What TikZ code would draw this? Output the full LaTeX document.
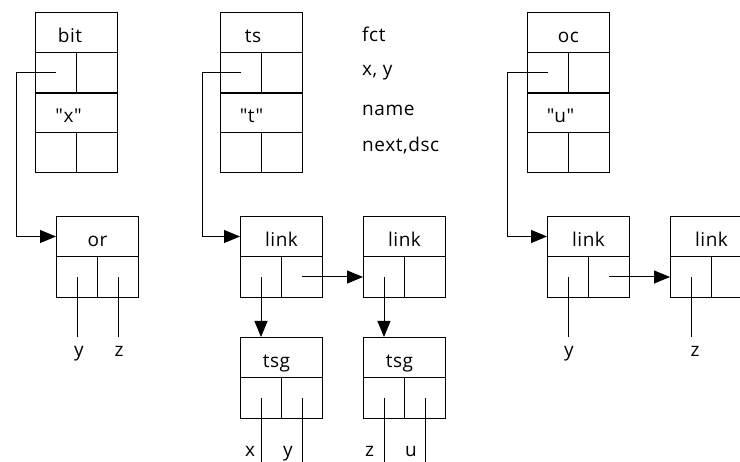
\documentclass[tikz,border=0pt]{standalone}
\usepackage{fontspec}
\setmainfont[LetterSpace=3,Ligatures=TeXOff]{Open Sans}
\usetikzlibrary{arrows.meta}
\newcommand\qq[1]{"#1"}
\newcommand\bigrec[4]{%
  \node[rec] (#1-h) at (#2,12) {#3};
  \node[half] (#1-a) at (#2,52) {};
  \node[half] (#1-b) at (#2+41,52) {};
  \node[rec] (#1-n) at (#2,92) {#4};
  \node[half] (#1-c) at (#2,132) {};
  \node[half] (#1-d) at (#2+41,132) {};
  \draw[sepline] (#1-a.south west) -- (#1-b.south east);
}
\newcommand\smallrec[4]{%
  \node[rec] (#1-h) at (#2,#3) {#4};
  \node[half, minimum height=41pt] (#1-a) at (#2,#3+40) {};
  \node[half, minimum height=41pt] (#1-b) at (#2+41,#3+40) {};
}
\begin{document}
\begin{tikzpicture}[x=1pt,y=-1pt,
  every node/.style={font=\fontsize{19}{22}\selectfont},
  rec/.style={draw, line width=1pt, inner sep=0pt, anchor=north west,
    minimum width=82pt, minimum height=40pt, text height=21pt, text depth=0pt},
  half/.style={rec, minimum width=41pt},
  sepline/.style={line width=2pt},
  wire/.style={line width=1pt},
  ptr/.style={line width=1pt, -{Triangle[length=16pt,width=13pt]}},
  lbl/.style={anchor=base, inner sep=0pt},
  side/.style={anchor=base west, inner sep=0pt}
]
\clip (0,0) rectangle (740,462);
\fill[white] (0,0) rectangle (740,462);

% top records
\bigrec{bit}{35}{bit\kern13pt}{\qq{x}\kern16pt}
\bigrec{ts}{220}{ts\kern17pt}{\qq{t}\kern20pt}
\bigrec{oc}{527}{oc}{\qq{u}\kern16pt}

% side legend
\node[side] (lf) at (362,42) {fct};
\node[side] (lx) at (362,76) {x, y};
\node[side] (ln) at (362,116) {name};
\node[side] (ld) at (362,152) {next,dsc};

% lower records
\smallrec{or}{56}{216}{or}
\smallrec{l1}{240}{216}{link}
\smallrec{l2}{363}{216}{link}
\smallrec{g1}{240}{337}{tsg\kern10pt}
\smallrec{g2}{363}{337}{tsg\kern10pt}
\smallrec{l3}{547}{216}{link}
\smallrec{l4}{670}{216}{link}

% pointers
\draw[ptr] (bit-a.center) -- ++(-40,0) |- (or-h.west);
\draw[ptr] (ts-a.center) -- ++(-39,0) |- (l1-h.west);
\draw[ptr] (oc-a.center) -- ++(-41,0) |- (l3-h.west);
\draw[ptr] (l1-b.center) -- (l2-a.west);
\draw[ptr] (l3-b.center) -- (l4-a.west);
\draw[ptr] (l1-a.center) -- (l1-a.center |- g1-h.north);
\draw[ptr] (l2-a.center) -- (l2-a.center |- g2-h.north);

% leaf labels
\node[lbl] (or-y) at (79,357) {y};
\node[lbl] (or-z) at (119,357) {z};
\node[lbl] (l3-y) at (569,357) {y};
\node[lbl] (l4-z) at (695,357) {z};
\node[lbl] (g1-x) at (250,457) {x};
\node[lbl] (g1-y) at (288,457) {y};
\node[lbl] (g2-z) at (369.5,457) {z};
\node[lbl] (g2-u) at (411,457) {u};

\coordinate (or-ae) at (or-a.center |- 0,337);
\coordinate (or-be) at (or-b.center |- 0,337);
\coordinate (l3-ae) at (l3-a.center |- 0,337);
\coordinate (l4-ae) at (l4-a.center |- 0,337);
\coordinate (g1-ae) at (g1-a.center |- 0,465);
\coordinate (g1-be) at (g1-b.center |- 0,465);
\coordinate (g2-ae) at (g2-a.center |- 0,465);
\coordinate (g2-be) at (g2-b.center |- 0,465);

\draw[wire] (or-a.center) -- (or-ae);
\draw[wire] (or-b.center) -- (or-be);
\draw[wire] (l3-a.center) -- (l3-ae);
\draw[wire] (l4-a.center) -- (l4-ae);
\draw[wire] (g1-a.center) -- (g1-ae);
\draw[wire] (g1-b.center) -- (g1-be);
\draw[wire] (g2-a.center) -- (g2-ae);
\draw[wire] (g2-b.center) -- (g2-be);
\end{tikzpicture}
\end{document}
